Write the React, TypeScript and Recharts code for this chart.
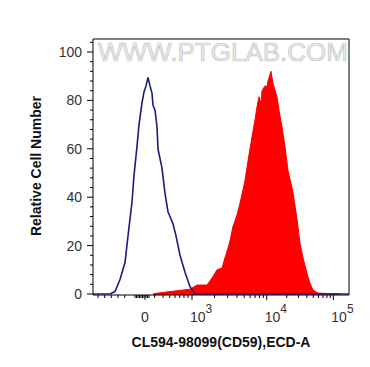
import React from 'react';
import { ComposedChart, Area, Line, XAxis, YAxis, ReferenceArea, Customized } from 'recharts';

// display channel (0..256 across the plot) and relative count
const controlX = [0, 17, 22, 27, 32, 35, 39, 41, 44, 46, 49, 51, 53, 55, 57, 59, 60, 62, 64, 65, 67, 69, 72, 75, 78, 80, 83, 87, 92, 97, 102, 256];
const controlY = [0, 0, 1, 6, 13, 24, 38, 49, 61, 70, 79, 83.5, 86, 89.5, 86, 83, 78, 76, 69, 60, 56, 52, 41.6, 34, 31, 29, 24, 16, 9, 3, 0, 0];

const stainedX = [60, 64, 67, 77, 87, 97, 104, 107, 114, 119, 124, 129, 132, 135, 137, 140, 144, 147, 150, 152, 155, 159, 162, 164, 166, 168, 169, 172, 174, 175, 178, 180, 184, 186, 189, 192, 195, 200, 204, 207, 210, 214, 217, 220, 225, 233, 247];
const stainedY = [0, 0.3, 0.5, 1, 1.5, 2, 3.7, 3.7, 3.7, 6.6, 10, 10.7, 15, 19, 22, 28, 32.6, 37.6, 43, 47, 55, 65, 72, 77.4, 81.5, 78.8, 84, 86, 85.7, 88, 92, 87, 81.5, 76, 69, 61, 51, 42, 31, 21, 15, 8.5, 4.4, 1.7, 0.4, 0.2, 0];

// x axis: positions of 0, 10^3, 10^4, 10^5 on the display scale
const decadePos = [52, 99, 173.7, 240.3];
const decadeExp = ['', '3', '4', '5'];
const linearMinor = [5, 11.7, 18.3, 25, 31.7, 42, 43.5, 45, 46.5, 48, 49.5, 51, 53, 54.5, 56, 61.7, 70, 76.7, 82, 86.7, 91, 95];

const yMajor = [0, 20, 40, 60, 80, 100];
const yDomain = [-0.41, 105.37];

const controlData = controlX.map((x, i) => ({ x, y: controlY[i] }));
const stainedData = stainedX.map((x, i) => ({ x, y: stainedY[i] }));

const logMinor: number[] = [];
for (let d = 1; d < decadePos.length - 1; d++) {
    for (let m = 2; m <= 9; m++) {
        logMinor.push(decadePos[d] + Math.log10(m) * (decadePos[d + 1] - decadePos[d]));
    }
}
const xTicks = [...decadePos, ...linearMinor, ...logMinor].sort((a, b) => a - b);

const yTicks: number[] = [];
for (let v = 0; v <= 104; v += 4) yTicks.push(v);

const font = 'Arial, "Liberation Sans", sans-serif';

const XTick = (props: any) => {
    const { x, y, payload } = props;
    const idx = decadePos.indexOf(payload.value);
    const major = idx >= 0;
    return (
        <g>
            <line x1={x} x2={x} y1={y} y2={y + (major ? 5 : 3)} stroke="#000" strokeWidth={1} />
            {major && idx === 0 && (
                <text x={x} y={y + 27} textAnchor="middle" fontSize={14} fill="#333" fontFamily={font}>0</text>
            )}
            {major && idx > 0 && (
                <text x={x - 2} y={y + 27} fontSize={14} fill="#333" fontFamily={font}>
                    10<tspan dy={-9} fontSize={12}>{decadeExp[idx]}</tspan>
                </text>
            )}
        </g>
    );
};

const YTick = (props: any) => {
    const { x, y, payload } = props;
    const major = yMajor.includes(payload.value);
    return (
        <g>
            <line x1={x - (major ? 6 : 3)} x2={x} y1={y} y2={y} stroke="#000" strokeWidth={1} />
            {major && (
                <text x={x - 11} y={y} textAnchor="end" dominantBaseline="central" fontSize={14} fill="#333" fontFamily={font}>
                    {payload.value}
                </text>
            )}
        </g>
    );
};

const Watermark = () => (
    <text x={223} y={61} textAnchor="middle" fontSize={25} fontFamily={font} fill="#ececec" stroke="#c4c4c4" strokeWidth={0.7} textLength={250} lengthAdjust="spacingAndGlyphs">
        WWW.PTGLAB.COM
    </text>
);

const FlowHistogram: React.FC = () => {
    return (
        <div style={{ position: 'absolute', left: 0, top: 0, width: 370, height: 367, background: '#fff' }}>
            <ComposedChart width={370} height={367} margin={{ top: 39, right: 21, bottom: 0, left: 0 }}>
                <Customized component={Watermark} />
                <XAxis
                    dataKey="x"
                    type="number"
                    domain={[0, 256]}
                    allowDataOverflow
                    ticks={xTicks}
                    interval={0}
                    tick={<XTick />}
                    tickLine={false}
                    axisLine={false}
                    tickSize={0}
                    tickMargin={0}
                    height={72}
                    label={{
                        content: () => (
                            <text x={221} y={346.5} textAnchor="middle" fontSize={14} fontWeight="bold" fill="#111" fontFamily={font}>
                                CL594-98099(CD59),ECD-A
                            </text>
                        ),
                    }}
                />
                <YAxis
                    type="number"
                    domain={yDomain}
                    allowDataOverflow
                    ticks={yTicks}
                    interval={0}
                    tick={<YTick />}
                    tickLine={false}
                    axisLine={false}
                    tickSize={0}
                    tickMargin={0}
                    width={93}
                    label={{
                        content: () => (
                            <text x={35.5} y={166} textAnchor="middle" dominantBaseline="central" transform="rotate(-90 35.5 166)" fontSize={14} fontWeight="bold" fill="#111" fontFamily={font}>
                                Relative Cell Number
                            </text>
                        ),
                    }}
                />
                <Area
                    data={stainedData}
                    dataKey="y"
                    type="linear"
                    fill="#ff0000"
                    fillOpacity={1}
                    stroke="#ff0000"
                    strokeWidth={1}
                    baseValue={yDomain[0]}
                    isAnimationActive={false}
                    dot={false}
                    activeDot={false}
                />
                <Line
                    data={controlData}
                    dataKey="y"
                    type="linear"
                    stroke="#1c1c7c"
                    strokeWidth={1.6}
                    dot={false}
                    activeDot={false}
                    isAnimationActive={false}
                />
                <ReferenceArea x1={0} x2={256} y1={yDomain[0]} y2={yDomain[1]} fill="none" stroke="#000" strokeWidth={1} ifOverflow="visible" />
            </ComposedChart>
        </div>
    );
};

export default function App() {
    return <FlowHistogram />;
}
